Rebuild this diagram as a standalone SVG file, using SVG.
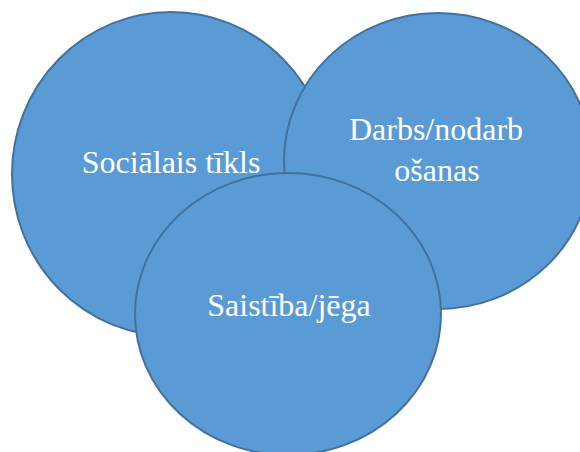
<svg xmlns="http://www.w3.org/2000/svg" width="580" height="452" viewBox="0 0 580 452">
<style>
.c{fill:#5B9BD5;stroke:#41719C;stroke-width:2}
.t{fill:#FFFFFF;font-family:"Liberation Serif","Times New Roman",serif;font-size:32px;text-anchor:middle}
</style>
<rect width="580" height="452" fill="#FFFFFF"/>
<g id="social">
<ellipse class="c" cx="171" cy="174" rx="159" ry="162"/>
<text class="t" x="171" y="173">Sociālais tīkls</text>
</g>
<g id="darbs">
<ellipse class="c" cx="438" cy="161" rx="154" ry="148"/>
<text class="t" x="436" y="140">Darbs/nodarb</text>
<text class="t" x="437" y="181">ošanas</text>
</g>
<g id="saistiba">
<ellipse class="c" cx="288" cy="314" rx="153" ry="141"/>
<text class="t" x="289" y="316">Saistība/jēga</text>
</g>
<g id="connectors"></g>
</svg>
